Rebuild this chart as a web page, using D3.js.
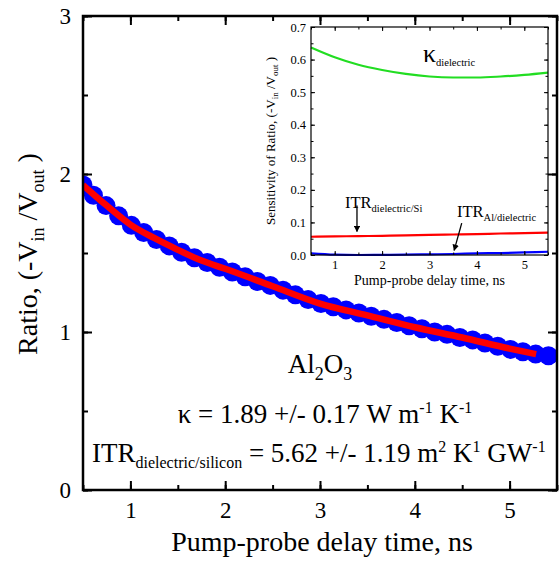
<!DOCTYPE html>
<html>
<head>
<meta charset="utf-8">
<script src="https://cdn.jsdelivr.net/npm/d3@7"></script>
<style>
  body { margin: 0; background: #fff; }
  svg, svg text { font-family: "Liberation Serif", "Times New Roman", serif; }
</style>
</head>
<body>
<div id="chart"></div>
<script>
// measured ratio points (pump-probe delay, ns)
var delay = [0.5, 0.61, 0.743, 0.876, 1.01, 1.14, 1.275, 1.41, 1.54, 1.675,
    1.81, 1.94, 2.075, 2.21, 2.34, 2.475, 2.61, 2.74, 2.875, 3.01,
    3.14, 3.275, 3.41, 3.54, 3.675, 3.81, 3.94, 4.075, 4.21, 4.34,
    4.475, 4.61, 4.74, 4.875, 5.01, 5.14, 5.275, 5.41];
var ratio = [1.93, 1.865, 1.80, 1.735, 1.675, 1.63, 1.585, 1.545, 1.505, 1.47,
    1.44, 1.41, 1.38, 1.35, 1.32, 1.295, 1.265, 1.235, 1.205, 1.18,
    1.16, 1.14, 1.12, 1.10, 1.08, 1.06, 1.04, 1.02, 1.00, 0.985,
    0.965, 0.95, 0.93, 0.91, 0.89, 0.875, 0.86, 0.85];

// model fit
var fitDelay = [0.5, 0.75, 1.0, 1.25, 1.5, 1.75, 2.0, 2.5, 3.0, 3.5, 4.0, 4.5, 5.0, 5.28];
var fitRatio = [1.93, 1.80, 1.68, 1.595, 1.52, 1.452, 1.40, 1.29, 1.18, 1.105, 1.03, 0.965, 0.895, 0.86];

// sensitivity curves (inset)
var sensDelay = [0.5, 1.0, 1.5, 2.0, 2.5, 3.0, 3.5, 4.0, 4.5, 5.0, 5.5];
var sensKappa = [0.637, 0.607, 0.584, 0.568, 0.556, 0.548, 0.545, 0.545, 0.548, 0.553, 0.56];
var sensItrSi = [0.056, 0.057, 0.058, 0.059, 0.060, 0.062, 0.063, 0.064, 0.066, 0.067, 0.069];
var sensItrAl = [0.005, 0.001, 0.0, 0.0005, 0.001, 0.002, 0.003, 0.005, 0.006, 0.008, 0.010];

var xTicks = [1, 2, 3, 4, 5];
var yTicks = [0, 1, 2, 3];
var insetYTicks = [0.0, 0.1, 0.2, 0.3, 0.4, 0.5, 0.6, 0.7];

var SERIF = "'Liberation Serif', 'Times New Roman', serif";
var W = 560, H = 562;
var plot = { left: 83, right: 557, top: 16, bottom: 490 };
var inset = { left: 311, right: 548, top: 27, bottom: 255 };

var svg = d3.select("#chart").append("svg")
    .attr("width", W).attr("height", H)
    .style("font-family", SERIF);

var x = d3.scaleLinear().domain([0.5, 5.5]).range([plot.left, plot.right]);
var y = d3.scaleLinear().domain([0, 3]).range([plot.bottom, plot.top]);

var defs = svg.append("defs");
defs.append("clipPath").attr("id", "clipMain")
    .append("rect")
    .attr("x", plot.left).attr("y", plot.top)
    .attr("width", plot.right - plot.left).attr("height", plot.bottom - plot.top);

defs.append("marker")
    .attr("id", "arrow")
    .attr("viewBox", "0 0 10 10")
    .attr("refX", 9).attr("refY", 5)
    .attr("markerWidth", 5).attr("markerHeight", 5)
    .attr("orient", "auto")
    .append("path").attr("d", "M0,0 L10,5 L0,10 z").attr("fill", "#000");

// inward ticks on all four sides of a frame, labels only bottom/left
function frameAxes(g, sx, sy, box, opt) {
    var minorX = d3.range(sx.domain()[0], sx.domain()[1] + 1e-9, opt.minorXStep);
    var minorY = d3.range(sy.domain()[0], sy.domain()[1] + 1e-9, opt.minorYStep);
    var sides = [
        [d3.axisBottom, sx, "translate(0," + box.bottom + ")", opt.xTicks, minorX, opt.xFormat],
        [d3.axisTop, sx, "translate(0," + box.top + ")", opt.xTicks, minorX, null],
        [d3.axisLeft, sy, "translate(" + box.left + ",0)", opt.yTicks, minorY, opt.yFormat],
        [d3.axisRight, sy, "translate(" + box.right + ",0)", opt.yTicks, minorY, null]
    ];
    sides.forEach(function (m) {
        var minorAxis = m[0](m[1]).tickValues(m[4]).tickSizeInner(-opt.minorSize).tickSizeOuter(0).tickFormat("");
        var gm = g.append("g").attr("transform", m[2]).call(minorAxis);
        gm.select(".domain").remove();
        gm.selectAll("line").attr("stroke-width", opt.tickWidth);

        var majorAxis = m[0](m[1]).tickValues(m[3]).tickSizeInner(-opt.majorSize).tickSizeOuter(0)
            .tickPadding(opt.padding)
            .tickFormat(m[5] ? m[5] : "");
        var ga = g.append("g").attr("transform", m[2]).call(majorAxis);
        ga.select(".domain").remove();
        ga.selectAll("line").attr("stroke-width", opt.tickWidth);
        ga.attr("font-family", null);
        ga.selectAll("text")
            .style("font-family", SERIF)
            .attr("font-size", opt.fontSize)
            .attr("fill", "#000");
    });
    g.append("rect")
        .attr("x", box.left).attr("y", box.top)
        .attr("width", box.right - box.left).attr("height", box.bottom - box.top)
        .attr("fill", "none").attr("stroke", "#000").attr("stroke-width", opt.frameWidth);
}

// text with sub/superscripts: parts are [text, shift] with shift 0 normal, 1 sub, -1 sup
function richText(g, px, py, size, small, anchor, parts) {
    var t = g.append("text")
        .attr("x", px).attr("y", py)
        .attr("text-anchor", anchor)
        .attr("font-size", size)
        .style("font-family", SERIF);
    var level = 0;
    parts.forEach(function (p) {
        var target = p[1] > 0 ? small.sub : (p[1] < 0 ? -small.sup : 0);
        var sp = t.append("tspan").attr("dy", target - level).text(p[0]);
        if (p[1] !== 0) sp.attr("font-size", small.size);
        level = target;
    });
    return t;
}

// ---- main chart ----
var main = svg.append("g");

var marks = main.append("g").attr("clip-path", "url(#clipMain)");
marks.selectAll("circle")
    .data(delay)
    .enter().append("circle")
    .attr("cx", function (d) { return x(d); })
    .attr("cy", function (d, i) { return y(ratio[i]); })
    .attr("r", 9.5)
    .attr("fill", "#0000ff");

var fitLine = d3.line()
    .x(function (d) { return x(d); })
    .y(function (d, i) { return y(fitRatio[i]); })
    .curve(d3.curveMonotoneX);
marks.append("path")
    .datum(fitDelay)
    .attr("d", fitLine)
    .attr("fill", "none")
    .attr("stroke", "#ff0000")
    .attr("stroke-width", 6.5);

frameAxes(main, x, y, plot, {
    xTicks: xTicks, yTicks: yTicks, minorXStep: 0.5, minorYStep: 0.5,
    majorSize: 9, minorSize: 5, tickWidth: 2, frameWidth: 2.5,
    padding: 12, fontSize: 23,
    xFormat: d3.format("d"), yFormat: d3.format("d")
});

// axis titles
main.append("text")
    .attr("x", (plot.left + plot.right) / 2 + 2)
    .attr("y", 551)
    .attr("text-anchor", "middle")
    .attr("font-size", 28)
    .text("Pump-probe delay time, ns");

var yTitle = richText(main, 0, 0, 28, { size: 18, sub: 7, sup: 9 }, "middle",
    [["Ratio, (-V", 0], ["in", 1], [" /V", 0], ["out", 1], [" )", 0]]);
yTitle.attr("x", null).attr("y", null)
    .attr("transform", "translate(37,254) rotate(-90)");

// annotations
richText(main, 320, 373, 27, { size: 18, sub: 7, sup: 9 }, "middle",
    [["Al", 0], ["2", 1], ["O", 0], ["3", 1]]);

richText(main, 325, 423, 27, { size: 16, sub: 6, sup: 10 }, "middle",
    [["\u03ba = 1.89 +/- 0.17 W m", 0], ["-1", -1], [" K", 0], ["-1", -1]]);

richText(main, 92, 462, 27, { size: 16, sub: 6, sup: 10 }, "start",
    [["ITR", 0], ["dielectric/silicon", 1], [" = 5.62 +/- 1.19 m", 0], ["2", -1],
     [" K", 0], ["1", -1], [" GW", 0], ["-1", -1]]);

// ---- inset ----
var ix = d3.scaleLinear().domain([0.5, 5.5]).range([inset.left, inset.right]);
var iy = d3.scaleLinear().domain([0, 0.7]).range([inset.bottom, inset.top]);

var ins = svg.append("g");
ins.append("rect")
    .attr("x", inset.left).attr("y", inset.top)
    .attr("width", inset.right - inset.left).attr("height", inset.bottom - inset.top)
    .attr("fill", "#fff");

var sensLine = function (vals) {
    return d3.line()
        .x(function (d) { return ix(d); })
        .y(function (d, i) { return iy(vals[i]); })
        .curve(d3.curveMonotoneX);
};
[[sensKappa, "#22dd22"], [sensItrSi, "#ff0000"], [sensItrAl, "#0000ff"]].forEach(function (s) {
    ins.append("path")
        .datum(sensDelay)
        .attr("d", sensLine(s[0]))
        .attr("fill", "none")
        .attr("stroke", s[1])
        .attr("stroke-width", 2.2);
});

frameAxes(ins, ix, iy, inset, {
    xTicks: xTicks, yTicks: insetYTicks, minorXStep: 0.5, minorYStep: 0.05,
    majorSize: 4, minorSize: 2.5, tickWidth: 1, frameWidth: 1.2,
    padding: 5, fontSize: 12.5,
    xFormat: d3.format("d"), yFormat: d3.format(".1f")
});

ins.append("text")
    .attr("x", (inset.left + inset.right) / 2)
    .attr("y", 285)
    .attr("text-anchor", "middle")
    .attr("font-size", 14)
    .text("Pump-probe delay time, ns");

var iyTitle = richText(ins, 0, 0, 13, { size: 9, sub: 3, sup: 5 }, "middle",
    [["Sensitivity of Ratio, (-V", 0], ["in", 1], [" /V", 0], ["out", 1], [" )", 0]]);
iyTitle.attr("x", null).attr("y", null)
    .attr("transform", "translate(275,141) rotate(-90)");

richText(ins, 423, 62, 26, { size: 10.5, sub: 4, sup: 5 }, "start",
    [["\u03ba", 0], ["dielectric", 1]]);
richText(ins, 345, 208, 16.5, { size: 10.5, sub: 4, sup: 5 }, "start",
    [["ITR", 0], ["dielectric/Si", 1]]);
richText(ins, 457, 217, 16.5, { size: 10.5, sub: 4, sup: 5 }, "start",
    [["ITR", 0], ["Al/dielectric", 1]]);

[[1.47, 0.152, 1.47, 0.072], [3.68, 0.098, 3.52, 0.014]].forEach(function (a) {
    ins.append("line")
        .attr("x1", ix(a[0])).attr("y1", iy(a[1]))
        .attr("x2", ix(a[2])).attr("y2", iy(a[3]))
        .attr("stroke", "#000").attr("stroke-width", 1.3)
        .attr("marker-end", "url(#arrow)");
});
</script>
</body>
</html>
